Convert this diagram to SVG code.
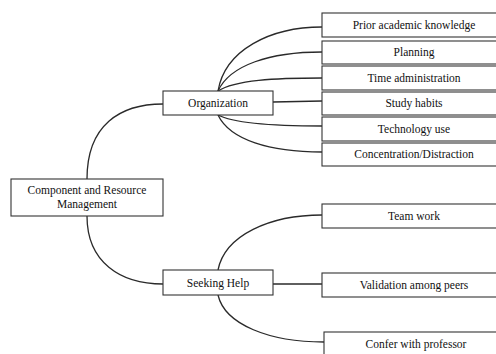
<svg xmlns="http://www.w3.org/2000/svg" width="496" height="354" viewBox="0 0 496 354">
<style>
.box{fill:#fff;stroke:#333;stroke-width:1.1}
.lbl{font-family:'Liberation Serif','Times New Roman',Times,serif;font-size:11.5px;fill:#111;text-anchor:middle}
.con{fill:none;stroke:#2a2a2a;stroke-width:1.3}
</style>
<rect width="496" height="354" fill="#fff"/>
<g id="connectors">
<path class="con" d="M87,179 C87,125 120,104 163,104"/>
<path class="con" d="M87,216 C87,262 120,284 163,284"/>
<path class="con" d="M218,91 C225,50 270,27 322,27"/>
<path class="con" d="M218,91 C230,65 270,52 322,52"/>
<path class="con" d="M218,91 C235,80 275,78 322,78"/>
<path class="con" d="M273,102 L322,101"/>
<path class="con" d="M218,115 C235,124 275,126 322,126"/>
<path class="con" d="M218,115 C230,140 270,152 322,152"/>
<path class="con" d="M218,270 C225,235 270,215 322,215"/>
<path class="con" d="M273,284 L322,284"/>
<path class="con" d="M218,295 C225,325 270,342 324,342"/>
</g>
<g id="main"><rect class="box" x="11" y="179" width="152" height="37"/><text class="lbl" x="87" y="194">Component and Resource</text><text class="lbl" x="87" y="208">Management</text></g>
<g id="organization"><rect class="box" x="163" y="91" width="110" height="24"/><text class="lbl" x="218" y="107">Organization</text></g>
<g id="seeking-help"><rect class="box" x="163" y="270" width="110" height="25"/><text class="lbl" x="218" y="287">Seeking Help</text></g>
<g id="prior"><rect class="box" x="322" y="13" width="185" height="24"/><text class="lbl" x="414" y="29">Prior academic knowledge</text></g>
<g id="planning"><rect class="box" x="322" y="41" width="185" height="23"/><text class="lbl" x="414" y="56">Planning</text></g>
<g id="time"><rect class="box" x="322" y="66" width="185" height="24"/><text class="lbl" x="414" y="82">Time administration</text></g>
<g id="study"><rect class="box" x="322" y="92" width="185" height="23"/><text class="lbl" x="414" y="107">Study habits</text></g>
<g id="technology"><rect class="box" x="322" y="117" width="185" height="24"/><text class="lbl" x="414" y="133">Technology use</text></g>
<g id="concentration"><rect class="box" x="322" y="143" width="185" height="23"/><text class="lbl" x="414" y="158">Concentration/Distraction</text></g>
<g id="team"><rect class="box" x="322" y="204" width="185" height="24"/><text class="lbl" x="414" y="220">Team work</text></g>
<g id="validation"><rect class="box" x="322" y="273" width="185" height="24"/><text class="lbl" x="414" y="289">Validation among peers</text></g>
<g id="confer"><rect class="box" x="324" y="332" width="185" height="30"/><text class="lbl" x="416" y="348">Confer with professor</text></g>
</svg>
